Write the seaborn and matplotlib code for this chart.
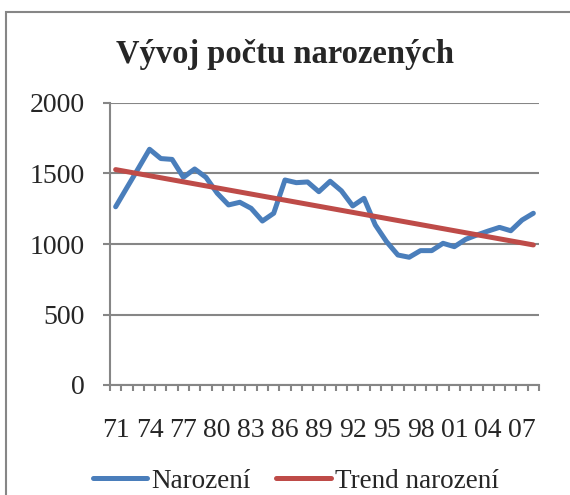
import numpy as np
import pandas as pd
import matplotlib.pyplot as plt
import seaborn as sns
from matplotlib.patches import Rectangle
from matplotlib.ticker import MultipleLocator, FixedLocator

# data: births per year 1971-2008
years = list(range(1971, 2009))
narozeni = [1264, 1400, 1535, 1672, 1606, 1600, 1473, 1532, 1473, 1360,
            1277, 1296, 1253, 1163, 1218, 1454, 1435, 1440, 1371, 1445,
            1377, 1270, 1324, 1135, 1016, 922, 906, 953, 953, 1005,
            981, 1033, 1064, 1092, 1118, 1094, 1170, 1218]
tick_labels = ["71", "74", "77", "80", "83", "86", "89", "92", "95", "98", "01", "04", "07"]

df = pd.DataFrame({"idx": np.arange(len(years)), "rok": years, "narozeni": narozeni})

blue = "#4A7EBB"
red = "#BE4B48"
grid_c = "#868686"

sns.set_style("white")
plt.rcParams["font.family"] = ["Liberation Serif", "DejaVu Serif"]

fig = plt.figure(figsize=(5.7, 4.95), dpi=100)
ax = fig.add_axes([110 / 570, 1 - 385 / 495, (539 - 110) / 570, (385 - 103) / 495])

sns.lineplot(data=df, x="idx", y="narozeni", ax=ax, color=blue, lw=3.6, legend=False)
# linear trend computed from the data (as the Excel trendline)
sns.regplot(data=df, x="idx", y="narozeni", ax=ax, scatter=False, ci=None,
            truncate=True, line_kws=dict(color=red, lw=3.6))

ax.set_xlim(-0.5, len(years) - 0.5)
ax.set_ylim(0, 2000)
ax.yaxis.set_major_locator(MultipleLocator(500))
ax.grid(axis="y", color=grid_c, lw=1.5)
ax.set_axisbelow(True)

ax.xaxis.set_major_locator(FixedLocator(np.arange(0, len(years), 3)))
ax.set_xticklabels(tick_labels)
ax.xaxis.set_minor_locator(FixedLocator(np.arange(-0.5, len(years), 1)))
ax.tick_params(axis="x", which="both", bottom=True)
ax.tick_params(axis="x", which="major", length=0, pad=24, labelsize=20)
ax.tick_params(axis="x", which="minor", length=4.5, width=1.5, color=grid_c, direction="out")
ax.tick_params(axis="y", left=True, length=5, width=1.5, color=grid_c, direction="out", pad=13, labelsize=20)
ax.set_xlabel("")
ax.set_ylabel("")

for s in ["top", "right"]:
    ax.spines[s].set_visible(False)
for s in ["left", "bottom"]:
    ax.spines[s].set_color(grid_c)
    ax.spines[s].set_linewidth(1.5)

fig.text(0.5, 1 - 55 / 495, "Vývoj počtu narozených", ha="center", va="center",
         fontsize=23.5, fontweight="bold")

handles = [ax.lines[0], ax.lines[1]]
labels = ["Narození", "Trend narození"]
fig.legend(handles, labels, loc="center", bbox_to_anchor=(296 / 570, 1 - 481 / 495),
           ncol=2, frameon=False, fontsize=19.5, handlelength=2.0, handletextpad=0.18,
           columnspacing=0.93, borderpad=0, borderaxespad=0)

fig.patches.append(Rectangle((6 / 570, -0.1), 1.2, 1 - 12 / 495 + 0.1,
                             transform=fig.transFigure, fill=False,
                             edgecolor=grid_c, lw=1.5))

fig.savefig("out.png", dpi=100)
